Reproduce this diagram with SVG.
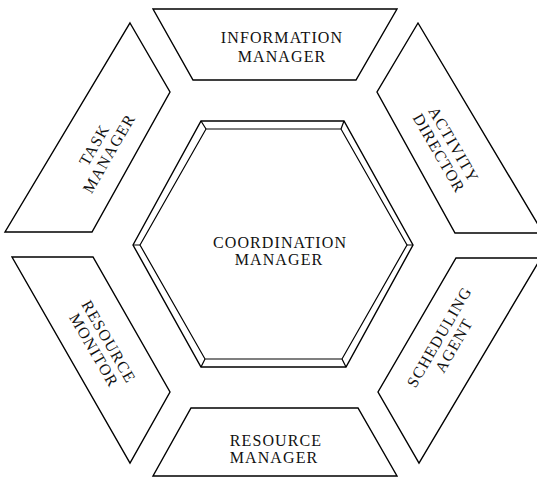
<svg xmlns="http://www.w3.org/2000/svg" width="537" height="477" viewBox="0 0 537 477">
<style>
.p{fill:#fff;stroke:#000;stroke-width:1.4;stroke-linejoin:miter}
.b{fill:none;stroke:#000;stroke-width:1.2}
.t{font-family:"Liberation Serif",serif;font-size:16px;letter-spacing:1.1px;fill:#111;text-anchor:middle}
</style>
<rect width="537" height="477" fill="#fff"/>
<g id="information-manager">
<polygon class="p" points="153,9 397,9 356,80 193,80"/>
<text class="t" x="282" y="43">INFORMATION</text>
<text class="t" x="282" y="62">MANAGER</text>
</g>
<g id="activity-director">
<polygon class="p" points="418,23 543,233 455,233 377,92"/>
<g transform="translate(446,148) rotate(60)">
<text class="t" x="1" y="-3">ACTIVITY</text>
<text class="t" x="1" y="14">DIRECTOR</text>
</g>
</g>
<g id="scheduling-agent">
<polygon class="p" points="456,258 541,258 419,463 378,392"/>
<g transform="translate(446,342) rotate(-60)">
<text class="t" x="1" y="-3">SCHEDULING</text>
<text class="t" x="1" y="14">AGENT</text>
</g>
</g>
<g id="resource-manager">
<polygon class="p" points="191,408 358,408 397,476 153,476"/>
<text class="t" x="276" y="446">RESOURCE</text>
<text class="t" x="274" y="463">MANAGER</text>
</g>
<g id="resource-monitor">
<polygon class="p" points="12,257 93,257 170,392 130,463"/>
<g transform="translate(101,345) rotate(60)">
<text class="t" x="1" y="-3">RESOURCE</text>
<text class="t" x="1" y="14">MONITOR</text>
</g>
</g>
<g id="task-manager">
<polygon class="p" points="130,23 170,92 92,232 5,232"/>
<g transform="translate(101,150) rotate(-60)">
<text class="t" x="1" y="-3">TASK</text>
<text class="t" x="1" y="14">MANAGER</text>
</g>
</g>
<g id="coordination-manager">
<polygon class="p" points="133,245 201,121 344,121 413,245 346,367 201,367"/>
<polygon class="b" points="140,245 206,129 341,129 407,245 342,359 205,359"/>
<path class="b" d="M133,245L140,245M201,121L206,129M344,121L341,129M413,245L407,245M346,367L342,359M201,367L205,359"/>
<text class="t" x="280" y="248">COORDINATION</text>
<text class="t" x="279" y="265">MANAGER</text>
</g>
<g id="connectors"/>
</svg>
